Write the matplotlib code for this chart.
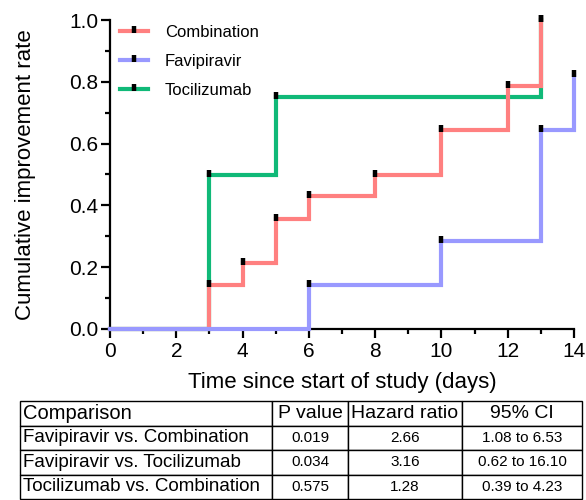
import matplotlib.pyplot as plt
from matplotlib.lines import Line2D
from matplotlib.path import Path
from matplotlib.ticker import MultipleLocator, FormatStrFormatter

plt.rcParams['font.family'] = ['Liberation Sans', 'DejaVu Sans']

# Data
combo_days = [0, 3, 4, 5, 6, 8, 10, 12, 13]
combo_rate = [0, 0.143, 0.214, 0.357, 0.429, 0.5, 0.643, 0.786, 1.0]
favi_days = [0, 6, 10, 13, 14]
favi_rate = [0, 0.143, 0.286, 0.643, 0.821]
toci_days = [0, 3, 5, 13]
toci_rate = [0, 0.5, 0.75, 1.0]

col_labels = ['Comparison', 'P value', 'Hazard ratio', '95% CI']
comparisons = ['Favipiravir vs. Combination', 'Favipiravir vs. Tocilizumab',
               'Tocilizumab vs. Combination']
p_values = ['0.019', '0.034', '0.575']
hazard = ['2.66', '3.16', '1.28']
ci = ['1.08 to 6.53', '0.62 to 16.10', '0.39 to 4.23']

red = '#FF8080'
blue = '#9999FF'
green = '#10B978'

# small vertical tick sitting on top of each step
tick_mark = Path([(0, -0.4), (0, 1.0)])

fig = plt.figure(figsize=(5.86, 5.0), dpi=100)
ax = fig.add_axes([110 / 586, 1 - 329 / 500, 464 / 586, 309 / 500])

series = [(toci_days, toci_rate, green, 'Tocilizumab'),
          (combo_days, combo_rate, red, 'Combination'),
          (favi_days, favi_rate, blue, 'Favipiravir')]
for d, r, c, name in series:
    ax.step(d, r, where='post', color=c, lw=3, clip_on=False, zorder=3,
            solid_joinstyle='miter')
for d, r, c, name in series:
    ax.plot(d[1:], r[1:], ls='none', marker=tick_mark, ms=7, mew=3.2,
            mec='black', clip_on=False, zorder=5)

ax.set_xlim(0, 14)
ax.set_ylim(0, 1.0)
ax.xaxis.set_major_locator(MultipleLocator(2))
ax.xaxis.set_minor_locator(MultipleLocator(1))
ax.yaxis.set_major_locator(MultipleLocator(0.2))
ax.yaxis.set_minor_locator(MultipleLocator(0.1))
ax.yaxis.set_major_formatter(FormatStrFormatter('%.1f'))
for s in ['top', 'right']:
    ax.spines[s].set_visible(False)
for s in ['left', 'bottom']:
    ax.spines[s].set_linewidth(1.6)
ax.tick_params(which='major', direction='out', length=6.5, width=1.6,
               labelsize=15)
ax.tick_params(axis='x', which='major', pad=3)
ax.tick_params(axis='y', which='major', pad=2)
ax.tick_params(which='minor', direction='out', length=3.5, width=1.6)

ax.set_xlabel('Time since start of study (days)', fontsize=16, labelpad=8)
ax.set_ylabel('Cumulative improvement rate', fontsize=16, labelpad=24)

handles = [Line2D([], [], color=c, lw=3, marker=tick_mark, ms=7, mew=3.2,
                  mec='black') for c in [red, blue, green]]
ax.legend(handles, ['Combination', 'Favipiravir', 'Tocilizumab'],
          loc='upper left', bbox_to_anchor=(0.0216, 0.985), frameon=False,
          fontsize=12, handlelength=1.68, handletextpad=1.0,
          labelspacing=0.85, numpoints=1, borderpad=0, borderaxespad=0)

# comparison table
tax = fig.add_axes([20 / 586, 0.002, 562 / 586, 98 / 500])
tax.axis('off')
rows = [[comparisons[i], p_values[i], hazard[i], ci[i]] for i in range(3)]
widths = [252, 76, 114, 120]
tbl = tax.table(cellText=rows, colLabels=col_labels, bbox=[0, 0, 1, 1],
                colWidths=[w / sum(widths) for w in widths], cellLoc='center')
tbl.auto_set_font_size(False)
for (r, c), cell in tbl.get_celld().items():
    cell.set_linewidth(1)
    cell.set_edgecolor('black')
    if c == 0:
        cell.set_text_props(ha='left', fontsize=13.5)
        cell.PAD = 0.01
    elif r == 0:
        cell.set_text_props(fontsize=14)
    else:
        cell.set_text_props(fontsize=11)
    if r == 0 and c == 0:
        cell.set_text_props(fontsize=14.5)

fig.savefig('out.png', dpi=100)
